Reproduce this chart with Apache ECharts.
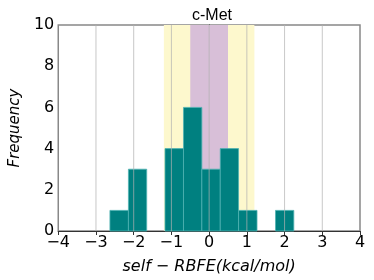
<!DOCTYPE html>
<html><head><meta charset="utf-8">
<script src="https://cdn.jsdelivr.net/npm/echarts@6/dist/echarts.min.js"></script>
<style>html,body{margin:0;padding:0;background:#fff}#c{width:374px;height:280px}</style>
</head><body><div id="c"></div>
<script>
var binEdges = [-2.63, -2.14, -1.655, -1.17, -0.68, -0.193, 0.295, 0.78, 1.27, 1.76, 2.245];
var binCounts = [1, 3, 0, 4, 6, 3, 4, 1, 0, 1];
var xTicks = [-4, -3, -2, -1, 0, 1, 2, 3, 4];
var yTicks = [0, 2, 4, 6, 8, 10];
var outerBand = [-1.2, 1.2];
var innerBand = [-0.5, 0.5];
var titleText = 'c-Met';
var xLabel = 'self − RBFE(kcal/mol)';
var yLabel = 'Frequency';

var bars = [];
for (var i = 0; i < binCounts.length; i++) {
  if (binCounts[i] > 0) bars.push([binEdges[i], binEdges[i + 1], binCounts[i]]);
}
var font = 'DejaVu Sans';
var chart = echarts.init(document.getElementById('c'), null, {renderer: 'canvas'});
chart.setOption({
  animation: false,
  title: {text: titleText, left: 207, top: 3, textAlign: 'center',
    textStyle: {fontFamily: 'Liberation Sans', fontSize: 16, fontWeight: 'normal', color: '#000'}},
  grid: {left: 55, right: 14, top: 25, bottom: 49, show: true, borderColor: '#888', borderWidth: 1.5, z: 0},
  xAxis: {type: 'value', min: xTicks[0], max: xTicks[xTicks.length - 1], interval: 1,
    name: xLabel, nameLocation: 'middle', nameGap: 28,
    nameTextStyle: {fontFamily: font, fontSize: 16, fontStyle: 'italic', color: '#000'},
    axisLine: {onZero: false, lineStyle: {color: '#333', width: 1}},
    axisTick: {show: true, length: 4, lineStyle: {color: '#333'}},
    axisLabel: {fontFamily: font, fontSize: 16, color: '#000', margin: 4,
      formatter: function (v) { return String(v).replace('-', '\u2212'); }},
    splitLine: {show: false}},
  yAxis: {type: 'value', min: yTicks[0], max: yTicks[yTicks.length - 1], interval: 2,
    name: yLabel, nameLocation: 'middle', nameGap: 32,
    nameTextStyle: {fontFamily: font, fontSize: 15, fontStyle: 'italic', color: '#000'},
    axisLine: {show: true, lineStyle: {color: '#333', width: 1}},
    axisTick: {show: true, length: 4, lineStyle: {color: '#333'}},
    axisLabel: {fontFamily: font, fontSize: 16, color: '#000', margin: 4},
    splitLine: {show: false}},
  series: [
    {type: 'line', data: [], z: 1,
      markArea: {silent: true, data: [
        [{xAxis: outerBand[0], itemStyle: {color: '#fdf8cd'}}, {xAxis: outerBand[1]}],
        [{xAxis: innerBand[0], itemStyle: {color: '#d8bfd8'}}, {xAxis: innerBand[1]}]
      ]}},
    {type: 'custom', z: 3, data: bars,
      renderItem: function (params, api) {
        var p0 = api.coord([api.value(0), api.value(2)]);
        var p1 = api.coord([api.value(1), 0]);
        return {type: 'rect', shape: {x: p0[0], y: p0[1], width: p1[0] - p0[0], height: p1[1] - p0[1]},
          style: {fill: '#008080', stroke: '#4fb3b3', lineWidth: 0.8}};
      }},
    {type: 'custom', z: 4, data: xTicks.slice(1, xTicks.length - 1).map(function (t) { return [t]; }),
      renderItem: function (params, api) {
        var a = api.coord([api.value(0), yTicks[0]]);
        var b = api.coord([api.value(0), yTicks[yTicks.length - 1]]);
        return {type: 'line', shape: {x1: a[0], y1: a[1], x2: b[0], y2: b[1]},
          style: {stroke: 'rgba(176,176,176,0.7)', lineWidth: 1}};
      }}
  ]
});
</script></body></html>
